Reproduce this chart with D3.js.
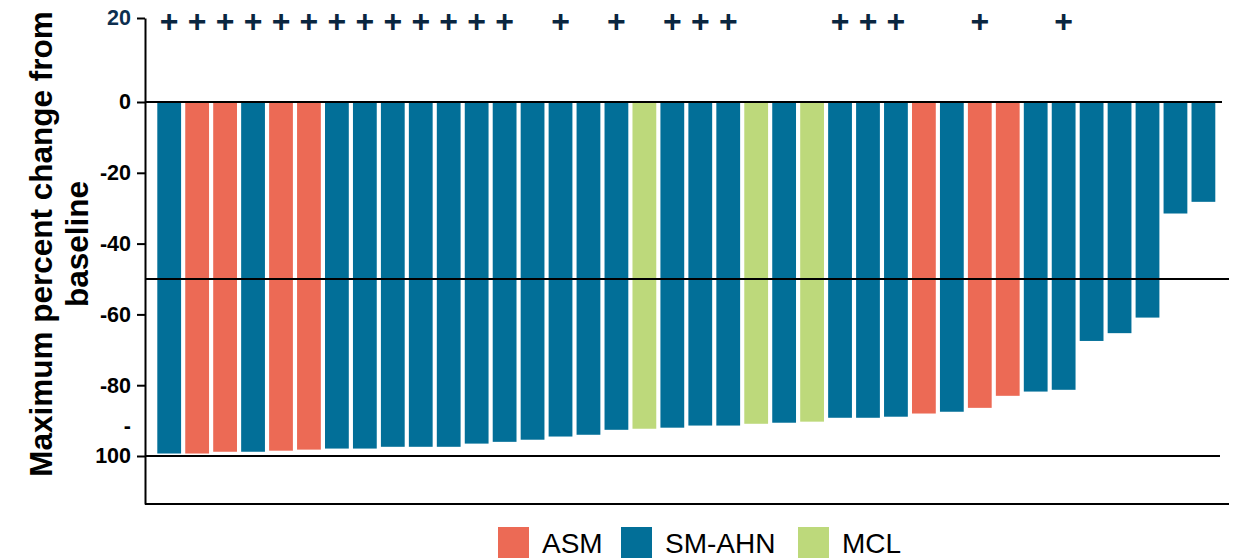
<!DOCTYPE html>
<html>
<head>
<meta charset="utf-8">
<script src="https://cdn.jsdelivr.net/npm/d3@7"></script>
<style>
  html, body { margin: 0; padding: 0; background: #fff; }
  svg { display: block; font-family: "Liberation Sans", Arial, Helvetica, sans-serif; }
</style>
</head>
<body>
<svg id="chart" width="1235" height="559"></svg>
<script>
// ---- data ----
const patients = d3.range(1, 39).map(i => "P" + i);
const subtypes = [
  "SM-AHN","ASM","ASM","SM-AHN","ASM","ASM","SM-AHN","SM-AHN","SM-AHN","SM-AHN",
  "SM-AHN","SM-AHN","SM-AHN","SM-AHN","SM-AHN","SM-AHN","SM-AHN","MCL","SM-AHN","SM-AHN",
  "SM-AHN","MCL","SM-AHN","MCL","SM-AHN","SM-AHN","SM-AHN","ASM","SM-AHN","ASM",
  "ASM","SM-AHN","SM-AHN","SM-AHN","SM-AHN","SM-AHN","SM-AHN","SM-AHN"
];
const changes = [
  -99.3,-99.3,-98.8,-98.8,-98.5,-98.2,-97.9,-97.9,-97.4,-97.4,
  -97.4,-96.5,-96.0,-95.4,-94.5,-94.0,-92.6,-92.3,-92.0,-91.4,
  -91.4,-90.9,-90.6,-90.3,-89.2,-89.2,-88.9,-88.0,-87.5,-86.4,
  -83.0,-81.8,-81.3,-67.5,-65.3,-60.9,-31.5,-28.2
];
// patients marked with "+"
const plusIdx = [0,1,2,3,4,5,6,7,8,9,10,11,12,14,16,18,19,20,24,25,26,29,32];
const yTicks = [20, 0, -20, -40, -60, -80, -100];
const refLines = [0, -50, -100];
const legendKeys = ["ASM", "SM-AHN", "MCL"];
const colors = { "ASM": "#ec6a55", "SM-AHN": "#026f98", "MCL": "#bdd97b" };
const yTitle = ["Maximum percent change from", "baseline"];

// ---- layout ----
const svg = d3.select("#chart");
const x0 = 145, x1 = 1227.6;
const x = d3.scaleBand().domain(patients).range([x0, x1])
  .paddingInner(0.149).paddingOuter(0.44);
// broken (polylinear) y scale
const y = d3.scaleLinear().domain([-113.5, -100, 0, 20]).range([504, 456, 102, 18]);

// bars
svg.append("g").selectAll("rect").data(changes).join("rect")
  .attr("x", (d, i) => x(patients[i]))
  .attr("width", x.bandwidth())
  .attr("y", y(0) + 1)
  .attr("height", d => y(d) - y(0) - 1)
  .attr("fill", (d, i) => colors[subtypes[i]]);

// reference lines
const refEnds = { "0": 1222, "-50": 1229, "-100": 1220 };
svg.append("g").selectAll("line").data(refLines).join("line")
  .attr("x1", x0).attr("x2", d => refEnds[String(d)])
  .attr("y1", d => y(d)).attr("y2", d => y(d))
  .attr("stroke", "#000").attr("stroke-width", 2);

// bottom axis line
svg.append("line").attr("x1", x0).attr("x2", 1229)
  .attr("y1", y(-113.5)).attr("y2", y(-113.5))
  .attr("stroke", "#000").attr("stroke-width", 2);

// y axis
const yAxis = svg.append("g").attr("transform", `translate(${x0},0)`)
  .call(d3.axisLeft(y).tickValues(yTicks).tickSize(8).tickSizeOuter(0).tickPadding(6)
    .tickFormat(d => d === -100 ? "" : String(d)));
yAxis.select(".domain").attr("stroke", "#000").attr("stroke-width", 2);
yAxis.selectAll(".tick line").attr("stroke", "#000").attr("stroke-width", 2);
yAxis.selectAll(".tick text")
  .attr("font-family", "Liberation Sans, Arial, sans-serif")
  .attr("font-size", 21.5).attr("font-weight", "bold")
  .attr("fill", d => d === 20 ? "#0d2f4f" : "#000");
// wrapped "-100" label
yAxis.selectAll(".tick").filter(d => d === -100).select("text")
  .call(t => {
    t.append("tspan").attr("x", -14).attr("dy", "-1.1em").text("-");
    t.append("tspan").attr("x", -14).attr("dy", "1.4em").text("100");
  });

// plus markers
svg.append("g").selectAll("text").data(plusIdx).join("text")
  .attr("x", i => x(patients[i]) + x.bandwidth() / 2)
  .attr("y", 32)
  .attr("text-anchor", "middle")
  .attr("font-size", 32).attr("font-weight", "bold")
  .attr("fill", "#0a2640")
  .text("+");

// y title
const title = svg.append("text")
  .attr("transform", "translate(0,244) rotate(-90)")
  .attr("text-anchor", "middle")
  .attr("font-size", 31.5).attr("font-weight", "bold").attr("fill", "#000");
title.append("tspan").attr("x", 0).attr("y", 52).text(yTitle[0]);
title.append("tspan").attr("x", 0).attr("y", 88).text(yTitle[1]);

// legend
const legendX = [498, 621, 798];
const lg = svg.append("g").selectAll("g").data(legendKeys).join("g")
  .attr("transform", (d, i) => `translate(${legendX[i]},527)`);
lg.append("rect").attr("width", 31).attr("height", 31).attr("fill", d => colors[d]);
lg.append("text").attr("x", 44).attr("y", 26)
  .attr("font-size", 28).attr("fill", "#000").text(d => d);
</script>
</body>
</html>
